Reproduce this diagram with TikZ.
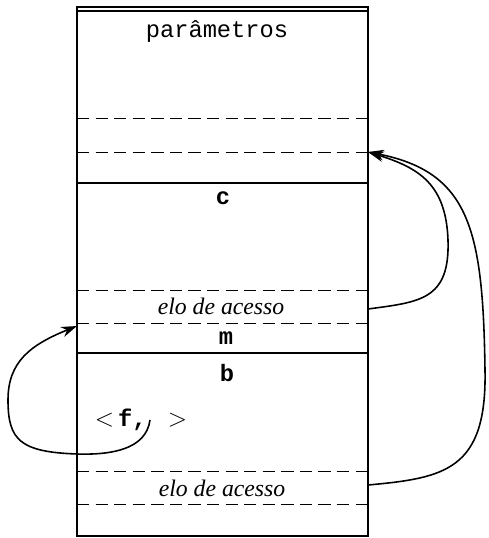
\documentclass[tikz,border=0pt]{standalone}
\usepackage{fontspec}
\setmainfont{Liberation Serif}
\setmonofont{Liberation Mono}
\usetikzlibrary{arrows.meta,positioning,calc}

\begin{document}
\begin{tikzpicture}[
    x=0.02cm, y=-0.02cm,
    frame/.style={line width=1.2pt},
    slot/.style={line width=0.5pt, dash pattern=on 7pt off 3.57pt},
    field/.style={font=\fontsize{13.5}{16}\selectfont\ttfamily},
    varname/.style={font=\fontsize{13.5}{16}\selectfont\ttfamily\bfseries},
    link/.style={font=\fontsize{13.5}{16}\selectfont\itshape},
    ptr/.style={-{Stealth[length=9pt,width=6pt]}, line width=0.9pt}
]
\useasboundingbox (0,0) rectangle (488,538);

% Stack frame
\draw[frame] (77,7) rectangle (368,536);
\draw[frame] (77,11) -- (368,11);
\draw[frame] (77,183) -- (368,183);
\draw[frame] (77,353) -- (368,353);

% Slots
\foreach \y in {118,152,290,323,471,504}
    \draw[slot] (77,\y) -- (368,\y);

% Labels
\node[field] (params) at (217,32) {parâmetros};
\node[varname] (c) at (223,198) {c};
\node[link] (elo1) at (221,306) {elo de acesso};
\node[varname] (m) at (226,338) {m};
\node[varname] (b) at (227,373) {b};
\node[field] (fref) at (141,420) {$<$\,\textbf{f,}\hspace{0.9em}$>$};
\node[link] (elo2) at (222,488) {elo de acesso};

% Pointer ends
\coordinate (ret) at (368,152);
\coordinate (elo1src) at (368,309);
\coordinate (elo2src) at (368,485);
\coordinate (elo1dst) at (77,326);
\coordinate (fptr) at (150,420);

% Arrows
\draw[ptr] (elo1src) .. controls (420,302) and (450,300) .. (448,240)
    .. controls (446,185) and (420,168) .. (ret);
\draw[ptr] (elo2src) .. controls (445,478) and (487,470) .. (485,370)
    .. controls (483,230) and (470,172) .. (ret);
\draw[ptr] (fptr) .. controls (146,450) and (110,455) .. (77,454)
    .. controls (20,452) and (8,440) .. (8,400)
    .. controls (8,362) and (30,345) .. (elo1dst);

\end{tikzpicture}
\end{document}
